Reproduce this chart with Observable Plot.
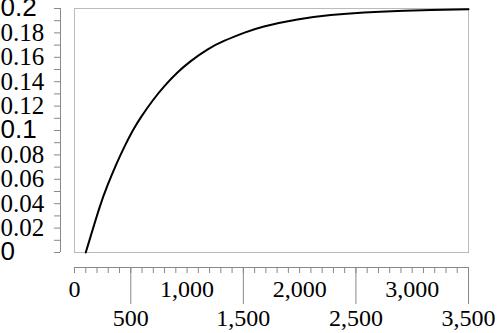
<!DOCTYPE html>
<html>
<head>
<meta charset="utf-8">
<script src="https://cdn.jsdelivr.net/npm/d3@7"></script>
<script src="https://cdn.jsdelivr.net/npm/@observablehq/plot@0.6"></script>
<style>
  html, body { margin: 0; padding: 0; background: #fff; }
</style>
</head>
<body>
<div id="chart"></div>
<script>
// Curve values
const xValues = [100, 220, 294, 369, 443, 517, 591, 695, 799, 917, 1036, 1184, 1333, 1511, 1683, 1980, 2277, 2574, 2871, 3167, 3500];
const yValues = [0, 0.0362, 0.0552, 0.0718, 0.0866, 0.0998, 0.1110, 0.1246, 0.1364, 0.1477, 0.1571, 0.1665, 0.1736, 0.1802, 0.1853, 0.1910, 0.1946, 0.1967, 0.1980, 0.1988, 0.1993];

// Y axis ticks and labels
const yMinorTicks = d3.range(0, 21).map(i => i / 100);
const ySerifTicks = [0.02, 0.04, 0.06, 0.08, 0.12, 0.14, 0.16, 0.18];
const ySerifLabels = ["0.02", "0.04", "0.06", "0.08", "0.12", "0.14", "0.16", "0.18"];
const ySansTicks = [0, 0.1, 0.2];
const ySansLabels = ["0", "0.1", "0.2"];

// X axis ticks and labels
const xMinorTicks = d3.range(0, 36).map(i => i * 100);
const xLongTicks = [500, 1500, 2500, 3500];
const xUpperTicks = [0, 1000, 2000, 3000];
const xUpperLabels = ["0", "1,000", "2,000", "3,000"];
const xLowerTicks = [500, 1500, 2500, 3500];
const xLowerLabels = ["500", "1,500", "2,500", "3,500"];

const data = xValues.map((x, i) => ({x, y: yValues[i]}));
const axisColor = "#888";
const tickShape = {draw(context, l) { context.moveTo(0, 0); context.lineTo(0, -l); }};

const chart = Plot.plot({
  width: 497,
  height: 333,
  marginLeft: 74,
  marginRight: 29,
  marginTop: 8,
  marginBottom: 81,
  x: {domain: [0, 3500], axis: null},
  y: {domain: [0, 0.2], axis: null},
  marks: [
    Plot.frame({stroke: "#bbb"}),
    // y axis
    Plot.ruleX([0], {dx: -14, stroke: axisColor}),
    Plot.axisY(yMinorTicks, {tickSize: 6, dx: -14, stroke: axisColor, tickFormat: () => "", label: null}),
    Plot.text(ySerifTicks, {y: d => d, text: (d, i) => ySerifLabels[i], frameAnchor: "left", textAnchor: "start", dx: -74, fontFamily: "Liberation Serif", fontSize: 25, fill: "black", title: () => "serif"}),
    Plot.text(ySansTicks, {y: d => d, text: (d, i) => ySansLabels[i], frameAnchor: "left", textAnchor: "start", dx: -74, dy: -1, fontFamily: "Liberation Sans", fontSize: 26, fill: "black", title: () => "sans"}),
    // x axis
    Plot.ruleY([0], {dy: 15, stroke: axisColor}),
    Plot.axisX(xMinorTicks, {tickSize: 6, dy: 15, stroke: axisColor, tickFormat: () => "", label: null}),
    Plot.vector(xLongTicks, {x: d => d, frameAnchor: "bottom", anchor: "start", rotate: 180, length: 36, dy: 15, shape: tickShape, stroke: axisColor, strokeWidth: 1}),
    Plot.text(xUpperTicks, {x: d => d, text: (d, i) => xUpperLabels[i], frameAnchor: "bottom", lineAnchor: "middle", dy: 37, fontFamily: "Liberation Serif", fontSize: 24, fill: "black", title: () => "serif"}),
    Plot.text(xLowerTicks, {x: d => d, text: (d, i) => xLowerLabels[i], frameAnchor: "bottom", lineAnchor: "middle", dy: 66, fontFamily: "Liberation Serif", fontSize: 24, fill: "black", title: () => "serif"}),
    // curve
    Plot.line(data, {x: "x", y: "y", stroke: "black", strokeWidth: 2, curve: "natural"})
  ]
});
// put the font family directly on every label text element
d3.select(chart).selectAll("text").each(function() {
  const titleEl = this.querySelector("title");
  const kind = titleEl ? titleEl.textContent : null;
  const g = this.parentNode;
  const size = g.getAttribute("font-size");
  if (kind === "serif") {
    this.setAttribute("font-family", "Liberation Serif");
    this.style.fontFamily = "'Liberation Serif'";
    if (size) this.setAttribute("font-size", size);
  } else if (kind === "sans") {
    this.setAttribute("font-family", "Liberation Sans");
    this.style.fontFamily = "'Liberation Sans'";
    if (size) this.setAttribute("font-size", size);
  }
  if (titleEl) titleEl.remove();
});
document.getElementById("chart").appendChild(chart);
</script>
</body>
</html>
